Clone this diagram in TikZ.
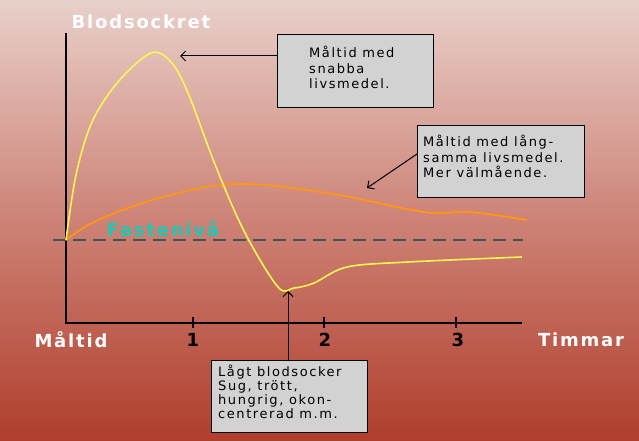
\documentclass[tikz,border=0pt]{standalone}
\usepackage{fontspec}
\setmainfont{DejaVu Sans}
\newfontfamily\wideb[LetterSpace=10]{DejaVu Sans}
\newfontfamily\widen[LetterSpace=12]{DejaVu Sans}
\usetikzlibrary{arrows.meta}
\begin{document}
\begin{tikzpicture}[x=1pt,y=-1pt,
  lbl/.style={font=\wideb\bfseries\fontsize{18}{19}\selectfont,text=white},
  num/.style={font=\bfseries\fontsize{18}{19}\selectfont,text=black},
  infobox/.style={draw=black,line width=1.2pt,fill=gray!35,inner sep=0pt},
  boxtxt/.style={anchor=north west,align=left,font=\widen\fontsize{13}{15.5}\selectfont,inner sep=0pt},
  ptr/.style={draw=black,line width=1pt,-{Straight Barb[length=5pt,width=10pt]}}]
\useasboundingbox (0,0) rectangle (639,441);
\shade[top color={rgb,255:red,232;green,208;blue,202},bottom color={rgb,255:red,176;green,62;blue,44},middle color={rgb,255:red,205;green,130;blue,118}] (0,0) rectangle (639,441);
% axes
\coordinate (o) at (66,323);
\coordinate (ytop) at (66,33);
\coordinate (xend) at (522,323);
\draw[line width=1.3pt] (ytop) -- (o) -- (xend);
\foreach \x in {193,324,456} \draw[line width=2.2pt] (\x,317) -- (\x,328);
\node[lbl] (yl) at (141,22) {Blodsockret};
\node[lbl] (m) at (71,340) {Måltid};
\node[num] (n1) at (193,340) {1};
\node[num] (n2) at (325,340) {2};
\node[num] (n3) at (458,340) {3};
\node[lbl] (tm) at (581,340) {Timmar};
% dashed baseline
\coordinate (d1) at (53,240); \coordinate (d2) at (523,240);
\draw[line width=2.4pt,color={rgb,255:red,60;green,85;blue,85},dash pattern=on 13pt off 7pt] (d1) -- (d2);
\node[font=\wideb\bfseries\fontsize{18}{19}\selectfont,text={rgb,255:red,30;green,200;blue,180}] (f) at (163,229) {Fastenivå};
% curves
\draw[line width=1.8pt,color={rgb,255:red,255;green,150;blue,20}] plot[smooth,tension=0.6] coordinates {(66,240) (98,220) (163,197) (237,184) (327,193) (424,212) (469,212) (527,220)};
\draw[line width=1.6pt,color={rgb,255:red,255;green,245;blue,80}] plot[smooth,tension=0.55] coordinates {(66,240) (76,175) (92,122) (118,82) (151,53) (171,62) (188,93) (216,167) (245,233) (278,287) (294,288) (314,283) (347,267) (408,262) (522,257)};
% boxes
\node[infobox,minimum width=156pt,minimum height=73pt,anchor=north west] (b1) at (277,34) {};
\node[boxtxt] (t1) at (309,46) {Måltid med\\snabba\\livsmedel.};
\node[infobox,minimum width=167pt,minimum height=72pt,anchor=north west] (b2) at (417,125) {};
\node[boxtxt] (t2) at (423,135) {Måltid med lång-\\samma livsmedel.\\Mer välmående.};
\node[infobox,minimum width=156pt,minimum height=72pt,anchor=north west] (b3) at (211,360) {};
\node[boxtxt,font=\widen\fontsize{13}{14}\selectfont] (t3) at (218,365) {Lågt blodsocker\\Sug, trött,\\hungrig, okon-\\centrerad m.m.};
% pointers
\coordinate (p1) at (180,56);
\draw[ptr] (b1.west |- p1) -- (p1);
\coordinate (p2s) at (417,154); \coordinate (p2) at (367,188);
\draw[ptr] (p2s) -- (p2);
\coordinate (p3) at (288,291);
\draw[ptr] (b3.north -| p3) -- (p3);
\end{tikzpicture}
\end{document}
